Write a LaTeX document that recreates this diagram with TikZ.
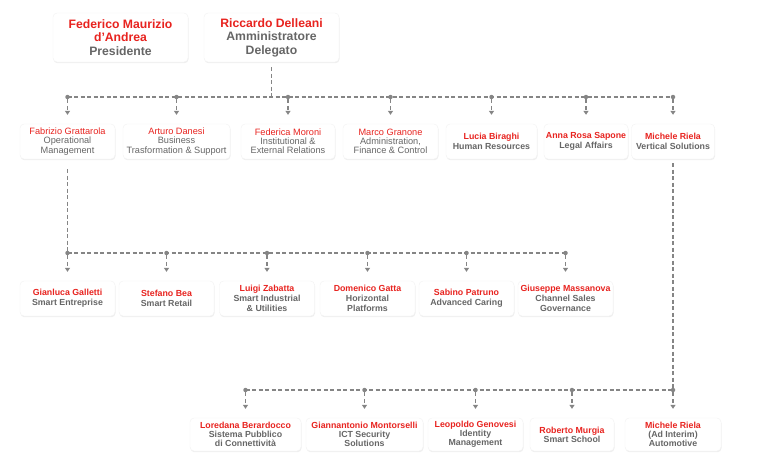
\documentclass[tikz,border=0pt]{standalone}
\usepackage{fontspec}
\setmainfont{Liberation Sans}
\usetikzlibrary{arrows.meta,shadows}
\definecolor{orgred}{HTML}{E8231F}
\definecolor{orggray}{HTML}{666666}
\definecolor{orgline}{HTML}{858585}
\newcommand{\nm}[1]{\textcolor{orgred}{#1}}

\begin{document}
\begin{tikzpicture}[x=1pt, y=-1pt,
		box/.style={rounded corners=4pt, fill=white, draw=black!5, align=center, inner sep=1pt, text=orggray,
			drop shadow={opacity=0.13, shadow xshift=0.5pt, shadow yshift=-1.2pt}},
		top/.style={box, minimum width=135pt, minimum height=49pt, font=\fontsize{12.2}{13.5}\selectfont\bfseries},
		unit/.style={box, minimum height=35pt, font=\fontsize{9.2}{9.2}\selectfont},
		unitb/.style={unit, font=\fontsize{8.8}{9.5}\selectfont\bfseries},
		team/.style={box, minimum width=95pt, minimum height=35pt, font=\fontsize{8.8}{10}\selectfont\bfseries},
		area/.style={box, minimum height=33pt, font=\fontsize{8.8}{9}\selectfont\bfseries},
		conn/.style={draw=orgline, line width=1.1pt, dash pattern=on 4pt off 2.5pt},
		arr/.style={conn, -{Triangle[width=5pt,length=4pt]}, shorten >=9pt},
		dot/.style={circle, fill=orgline, inner sep=0pt, minimum size=4.5pt}
		]
	\useasboundingbox (0,0) rectangle (773,472);

	% vertice
	\node [top] (fed) at (120.5,37.5) {\nm{Federico Maurizio}\\\nm{d’Andrea}\\Presidente};
	\node [top] (ric) at (271.5,37.5) {\nm{Riccardo Delleani}\\Amministratore\\Delegato};

	% prima linea
	\node [unit, minimum width=95pt] (fab) at (67.5,141.5) {\nm{Fabrizio Grattarola}\\Operational\\Management};
	\node [unit, minimum width=107pt] (art) at (176.5,141.5) {\nm{Arturo Danesi}\\Business\\Trasformation \& Support};
	\node [unit, minimum width=94pt] (fmo) at (288,141.5) {\nm{Federica Moroni}\\Institutional \&\\External Relations};
	\node [unit, minimum width=95pt] (mgr) at (390.5,141.5) {\nm{Marco Granone}\\Administration,\\Finance \& Control};
	\node [unitb, minimum width=91pt] (lbi) at (491.5,141.5) {\nm{Lucia Biraghi}\\Human Resources};
	\node [unitb, minimum width=84pt] (ars) at (586,141.5) {\nm{Anna Rosa Sapone}\\Legal Affairs};
	\node [unitb, minimum width=83pt] (mri) at (673,141.5) {\nm{Michele Riela}\\Vertical Solutions};

	% operational management
	\node [team] (gal) at (67.5,298.5) {\nm{Gianluca Galletti}\\Smart Entreprise};
	\node [team] (sbe) at (166.5,298.5) {\nm{Stefano Bea}\\Smart Retail};
	\node [team] (lza) at (267,298.5) {\nm{Luigi Zabatta}\\Smart Industrial\\\& Utilities};
	\node [team] (dga) at (367.5,298.5) {\nm{Domenico Gatta}\\Horizontal\\Platforms};
	\node [team] (spa) at (466.5,298.5) {\nm{Sabino Patruno}\\Advanced Caring};
	\node [team] (gma) at (565.5,298.5) {\nm{Giuseppe Massanova}\\Channel Sales\\Governance};

	% vertical solutions
	\node [area, minimum width=111pt] (lbe) at (245.5,434.5) {\nm{Loredana Berardocco}\\Sistema Pubblico\\di Connettività};
	\node [area, minimum width=117pt] (gmo) at (364.5,434.5) {\nm{Giannantonio Montorselli}\\ICT Security\\Solutions};
	\node [area, minimum width=95pt] (lge) at (475.5,434.5) {\nm{Leopoldo Genovesi}\\Identity\\Management};
	\node [area, minimum width=84pt] (rmu) at (572,434.5) {\nm{Roberto Murgia}\\Smart School};
	\node [area, minimum width=96pt] (rie) at (673,434.5) {\nm{Michele Riela}\\(Ad Interim)\\Automotive};

	% collegamenti
	\draw [conn, shorten <=5pt] (ric.south) -- (ric.south |- 0,97);
	\draw [conn] (fab.north |- 0,97) -- (mri.north |- 0,97);
	\foreach \n in {fab,art,fmo,mgr,lbi,ars,mri} {
		\node [dot] (j-\n) at (\n.north |- 0,97) {};
		\draw [arr] (j-\n) -- (\n);
	}
	\draw [conn, shorten <=10pt] (fab.south) -- (fab.south |- 0,253);
	\draw [conn] (gal.north |- 0,253) -- (gma.north |- 0,253);
	\foreach \n in {gal,sbe,lza,dga,spa,gma} {
		\node [dot] (j-\n) at (\n.north |- 0,253) {};
		\draw [arr] (j-\n) -- (\n);
	}
	\draw [conn, shorten <=4pt] (mri.south) -- (mri.south |- 0,390);
	\draw [conn] (lbe.north |- 0,390) -- (rie.north |- 0,390);
	\foreach \n in {lbe,gmo,lge,rmu,rie} {
		\node [dot] (j-\n) at (\n.north |- 0,390) {};
		\draw [arr] (j-\n) -- (\n);
	}
\end{tikzpicture}
\end{document}
